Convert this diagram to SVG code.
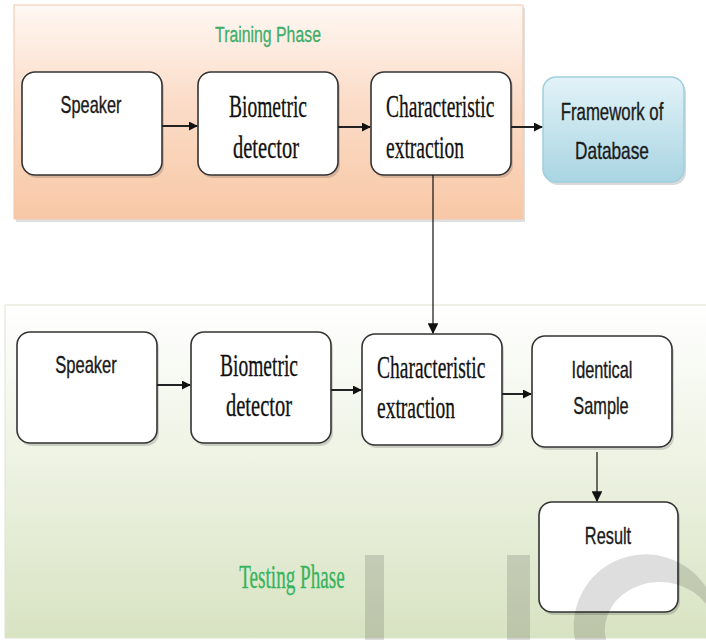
<svg xmlns="http://www.w3.org/2000/svg" width="706" height="640" viewBox="0 0 706 640">
<defs>
<linearGradient id="gTrain" x1="0" y1="0" x2="0" y2="1">
<stop offset="0" stop-color="#fff8f3"/>
<stop offset="0.45" stop-color="#fbdcc8"/>
<stop offset="1" stop-color="#f8c8a6"/>
</linearGradient>
<linearGradient id="gTest" x1="0" y1="0" x2="0" y2="1">
<stop offset="0" stop-color="#ffffff"/>
<stop offset="0.45" stop-color="#eef3e4"/>
<stop offset="1" stop-color="#d8e3c2"/>
</linearGradient>
<linearGradient id="gDb" x1="0" y1="0" x2="0" y2="1">
<stop offset="0" stop-color="#e2f3f8"/>
<stop offset="1" stop-color="#a9d5e2"/>
</linearGradient>
<marker id="ah" viewBox="0 0 10 10" refX="9" refY="5" markerWidth="4.5" markerHeight="4.5" orient="auto" markerUnits="strokeWidth">
<path d="M0,0 L10,5 L0,10 z" fill="#111"/>
</marker>
<marker id="ahs" viewBox="0 0 10 10" refX="9" refY="5" markerWidth="9" markerHeight="9" orient="auto" markerUnits="strokeWidth">
<path d="M0,0 L10,5 L0,10 z" fill="#111"/>
</marker>
</defs>
<style>
.box{fill:#fff;stroke:#333;stroke-width:1.6}
.shadow{fill:#000;opacity:0.15}
.sans{font-family:"Liberation Sans",Arial,sans-serif;font-size:23px;fill:#1a1a1a;stroke:#1a1a1a;stroke-width:0.35;text-anchor:middle}
.serif{font-family:"Liberation Serif","Times New Roman",serif;font-size:32px;fill:#111;stroke:#111;stroke-width:0.3}
.mid{text-anchor:middle}
.hconn{stroke:#222;stroke-width:2;fill:none;marker-end:url(#ah)}
.vconn{stroke:#111;stroke-width:1.2;fill:none;marker-end:url(#ahs)}
.wm{fill:#000;opacity:0.13}
</style>

<g id="training-panel">
<rect x="16" y="8" width="509" height="214" fill="#000" opacity="0.12"/>
<rect x="14" y="5" width="509" height="214" fill="url(#gTrain)" stroke="#f2c7aa" stroke-width="1"/>
<text transform="translate(268,42) scale(0.72,1)" font-family="'Liberation Sans',Arial,sans-serif" font-size="22" fill="#3fae6b" stroke="#3fae6b" stroke-width="0.3" text-anchor="middle">Training Phase</text>
</g>

<g id="testing-panel">
<rect x="5" y="305" width="710" height="333" fill="url(#gTest)" stroke="#dde3d0" stroke-width="1"/>
<text transform="translate(292,588) scale(0.58,1)" font-family="'Liberation Serif','Times New Roman',serif" font-size="33" fill="#37b35c" stroke="#37b35c" stroke-width="0.3" text-anchor="middle">Testing Phase</text>
</g>

<g id="train-speaker">
<rect class="shadow" x="24" y="75" width="140" height="103" rx="13"/>
<rect class="box" x="22" y="72" width="140" height="103" rx="13"/>
<text class="sans" transform="translate(91,113) scale(0.71,1)">Speaker</text>
</g>
<g id="train-biometric">
<rect class="shadow" x="200" y="75" width="140" height="103" rx="13"/>
<rect class="box" x="198" y="72" width="140" height="103" rx="13"/>
<text class="serif mid" transform="translate(268,117) scale(0.61,1)">Biometric</text>
<text class="serif mid" transform="translate(266,158) scale(0.64,1)">detector</text>
</g>
<g id="train-characteristic">
<rect class="shadow" x="373" y="75" width="140" height="103" rx="13"/>
<rect class="box" x="371" y="72" width="140" height="103" rx="13"/>
<text class="serif" transform="translate(386,117) scale(0.61,1)">Characteristic</text>
<text class="serif" transform="translate(386,158) scale(0.61,1)">extraction</text>
</g>
<g id="framework-database">
<rect class="shadow" x="545" y="80" width="141" height="105" rx="13"/>
<rect x="543" y="77" width="141" height="105" rx="13" fill="url(#gDb)" stroke="#9fcfdc" stroke-width="1.5"/>
<text class="sans" transform="translate(612,120) scale(0.73,1)">Framework of</text>
<text class="sans" transform="translate(612,159) scale(0.75,1)">Database</text>
</g>

<g id="test-speaker">
<rect class="shadow" x="19" y="335" width="140" height="111" rx="13"/>
<rect class="box" x="17" y="332" width="140" height="111" rx="13"/>
<text class="sans" transform="translate(86,373) scale(0.72,1)">Speaker</text>
</g>
<g id="test-biometric">
<rect class="shadow" x="193" y="335" width="140" height="111" rx="13"/>
<rect class="box" x="191" y="332" width="140" height="111" rx="13"/>
<text class="serif mid" transform="translate(259,376) scale(0.61,1)">Biometric</text>
<text class="serif mid" transform="translate(259,416) scale(0.64,1)">detector</text>
</g>
<g id="test-characteristic">
<rect class="shadow" x="364" y="337" width="140" height="111" rx="13"/>
<rect class="box" x="362" y="334" width="140" height="111" rx="13"/>
<text class="serif" transform="translate(377,378) scale(0.61,1)">Characteristic</text>
<text class="serif" transform="translate(377,418) scale(0.61,1)">extraction</text>
</g>
<g id="identical-sample">
<rect class="shadow" x="534" y="339" width="140" height="111" rx="13"/>
<rect class="box" x="532" y="336" width="140" height="111" rx="13"/>
<text class="sans" transform="translate(602,378) scale(0.71,1)">Identical</text>
<text class="sans" transform="translate(601,414) scale(0.71,1)">Sample</text>
</g>
<g id="result">
<rect class="shadow" x="541" y="505" width="139" height="110" rx="13"/>
<rect class="box" x="539" y="502" width="139" height="110" rx="13"/>
<text class="sans" transform="translate(608,544) scale(0.71,1)">Result</text>
</g>

<g id="connectors">
<line class="hconn" x1="162" y1="126" x2="197" y2="126"/>
<line class="hconn" x1="338" y1="127" x2="370" y2="127"/>
<line class="hconn" x1="511" y1="127" x2="542" y2="127"/>
<line class="vconn" x1="433" y1="175" x2="433" y2="333"/>
<line class="hconn" x1="157" y1="385" x2="190" y2="385"/>
<line class="hconn" x1="331" y1="390" x2="361" y2="390"/>
<line class="hconn" x1="502" y1="394" x2="531" y2="394"/>
<line class="vconn" x1="597" y1="452" x2="597" y2="501"/>
</g>

<g id="watermark">
<rect class="wm" x="365" y="555" width="19" height="85"/>
<rect class="wm" x="507" y="555" width="23" height="85"/>
<path class="wm" d="M575,640 A72,72 0 0 1 706,587 L706,604 A55,48 0 0 0 606,640 Z"/>
</g>
</svg>
